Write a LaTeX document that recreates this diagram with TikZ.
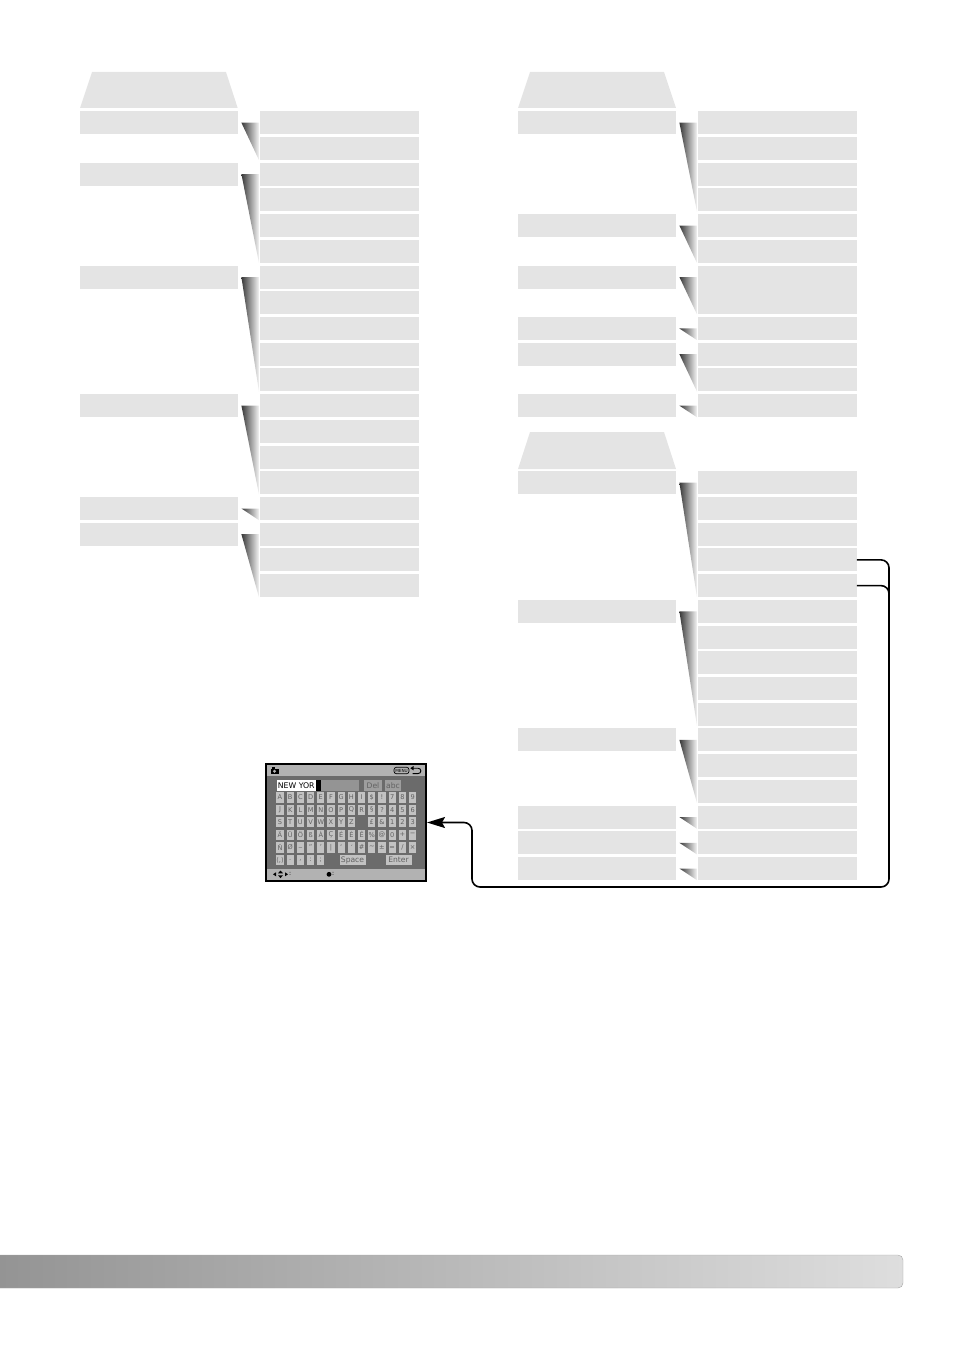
\documentclass[tikz,border=0pt]{standalone}
\usepackage{fontspec}
\setmainfont{DejaVu Sans}
\usetikzlibrary{arrows.meta,calc}
\definecolor{boxgray}{gray}{0.894}
\definecolor{keygray}{gray}{0.76}
\tikzset{
  mainitem/.style={fill=boxgray, inner sep=0pt, minimum width=158pt, minimum height=23pt, anchor=north west},
  subitem/.style={mainitem, minimum width=158.5pt},
  wedge/.style={left color=black!78, right color=black!4},
  key/.style={fill=keygray, inner sep=0pt, minimum width=7.2pt, minimum height=10.5pt, text=black!62, font=\fontsize{6.6}{7}\selectfont},
  screenbox/.style={draw=black, line width=2.4pt, fill=black!58, inner sep=0pt, minimum width=159.6pt, minimum height=116.6pt},
  link/.style={line width=1.6pt, rounded corners=8pt}
}
\newcommand{\menuwedge}[2]{\shade[wedge] ([xshift=3pt]#1.east) -- ($(#1.east -| #2.west)+(-1,0)$) -- ($(#2.south west)+(-1,0)$) -- cycle;}
\begin{document}
\begin{tikzpicture}[x=1pt,y=-1pt]
\useasboundingbox (0,0) rectangle (954,1351);

% left menu
\fill[boxgray] (80,108) -- (92,72) -- (226,72) -- (237.7,108) -- cycle;
\foreach \k in {0,...,18}
  \node[subitem] (L\k) at (260,{111+25.72*\k}) {};
\foreach \k/\last in {0/1,2/5,6/10,11/14,15/15,16/18}{
  \node[mainitem] (LP\k) at (80,{111+25.72*\k}) {};
  \menuwedge{LP\k}{L\last}
}

% upper right menu
\fill[boxgray] (518,108) -- (530,72) -- (664,72) -- (676,108) -- cycle;
\foreach \k in {0,1,2,3,4,5,8,9,10,11}
  \node[subitem] (R\k) at (698,{111+25.72*\k}) {};
\node[subitem, minimum height=48.7pt] (R6) at (698,{111+25.72*6}) {};
\foreach \k/\last in {0/3,4/5,6/6,8/8,9/10,11/11}{
  \node[mainitem] (RP\k) at (518,{111+25.72*\k}) {};
  \menuwedge{RP\k}{R\last}
}

% lower right menu
\fill[boxgray] (518,469) -- (530,432) -- (664,432) -- (676,469) -- cycle;
\foreach \k in {0,...,15}
  \node[subitem] (S\k) at (698,{471+25.72*\k}) {};
\foreach \k/\last in {0/4,5/9,10/12,13/13,14/14,15/15}{
  \node[mainitem] (SP\k) at (518,{471+25.72*\k}) {};
  \menuwedge{SP\k}{S\last}
}

% title entry screen
\node[screenbox] (kbd) at (346,822.5) {};
\fill[black!30] (267.4,765.4) rectangle (424.6,776);
\fill[black!30] (267.4,869) rectangle (424.6,879.6);
\fill[black] (270.5,768.5) rectangle (278.5,774);
\fill[black] (272,767) rectangle (275,768.5);
\fill[black!30] (274.5,771.3) circle (1.6);
\node[draw=black, line width=0.7pt, fill=black!30, rounded corners=2.5pt, inner sep=0pt, minimum width=15pt, minimum height=6.5pt, font=\fontsize{4.2}{4.2}\selectfont] (menukey) at (401.5,770.5) {MENU};
\draw[line width=0.9pt] (413,768.2) -- (418,768.2) .. controls (421.8,768.2) and (421.8,773.6) .. (418,773.6) -- (412.5,773.6);
\fill[black] (410.3,768.2) -- (413.5,766) -- (413.5,770.4) -- cycle;

\fill[white] (277,780) rectangle (316,790.5);
\node[anchor=west, inner sep=0pt, font=\fontsize{7.8}{8}\selectfont] (field) at (277.6,785.3) {NEW YOR};
\fill[black] (316,780) rectangle (321,790.5);
\fill[black!42] (321,780) rectangle (359,790.5);
\node[key, fill=black!38, minimum width=18pt, font=\fontsize{7.6}{8}\selectfont] (kdel) at (373,785.3) {Del};
\node[key, fill=black!38, minimum width=16pt, font=\fontsize{7.6}{8}\selectfont] (kabc) at (393,785.3) {abc};

\foreach \c [count=\i from 0] in {A,B,C,D,E,F,G,H,I,\$,!,7,8,9}
  \node[key] (ka\i) at ({280+10.2*\i},797.5) {\c};
\foreach \c [count=\i from 0] in {J,K,L,M,N,O,P,Q,R,§,?,4,5,6}
  \node[key] (kb\i) at ({280+10.2*\i},809.8) {\c};
\foreach \c [count=\i from 0] in {S,T,U,V,W,X,Y,Z}
  \node[key] (kc\i) at ({280+10.2*\i},822.2) {\c};
\foreach \c [count=\i from 9] in {£,\&,1,2,3}
  \node[key] (kc\i) at ({280+10.2*\i},822.2) {\c};
\foreach \c [count=\i from 0] in {Ä,Ü,Ö,ß,À,Ç,É,È,Ê,\%,@,0,+,−}
  \node[key] (kd\i) at ({280+10.2*\i},834.8) {\c};
\foreach \c [count=\i from 0] in {Ñ,Ø,\_,",',|,`,´,\#,\textasciitilde,±,=,/,×}
  \node[key] (ke\i) at ({280+10.2*\i},847.5) {\c};
\foreach \c [count=\i from 0] in {(,),.,{,},:,;}
  \node[key] (kf\i) at ({280+10.2*\i},860.2) {\c};
\node[key, minimum width=26pt, font=\fontsize{7.6}{8}\selectfont] (kspace) at (352.5,860.2) {Space};
\node[key, minimum width=26pt, font=\fontsize{7.6}{8}\selectfont] (kenter) at (398.5,860.2) {Enter};

\fill[black] (273,874.3) -- (276,872.3) -- (276,876.3) -- cycle;
\fill[black] (278,873.3) -- (280.5,870.5) -- (283,873.3) -- cycle;
\fill[black] (278,875.3) -- (280.5,878.1) -- (283,875.3) -- cycle;
\fill[black] (288,874.3) -- (285,872.3) -- (285,876.3) -- cycle;
\node[anchor=west, inner sep=0pt, font=\fontsize{6}{6}\selectfont] (navhint) at (289,874.3) {:};
\fill[black] (329,874.3) circle (2.4);
\node[anchor=west, inner sep=0pt, font=\fontsize{6}{6}\selectfont] (okhint) at (332,874.3) {:};

% link to the screen
\coordinate (railtop) at (889,620);
\coordinate (railend) at (889,887);
\coordinate (turn) at (472,887);
\draw[link, -{Stealth[length=18pt,width=11pt,inset=3pt]}] (S3.east) -| (railend) -- (turn) |- (kbd.east);
\draw[link] (S4.east) -| (railtop);

% footer bar
\shade[left color=black!42, right color=black!13, draw=black!35, rounded corners=5pt] (-2,1255) -- (903,1255) -- (903,1288) -- (-2,1288);
\end{tikzpicture}
\end{document}
